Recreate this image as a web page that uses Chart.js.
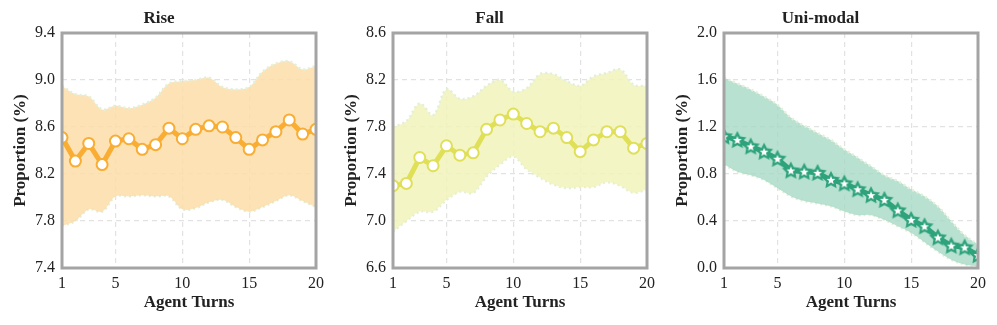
<!DOCTYPE html>
<html>
<head>
<meta charset="utf-8">
<script src="https://cdn.jsdelivr.net/npm/chart.js@4.4.0/dist/chart.umd.min.js"></script>
<style>
  body { margin: 0; background: #fff; width: 997px; height: 325px; position: relative; overflow: hidden; }
  .panel { position: absolute; top: 0; width: 330px; height: 325px; }
</style>
</head>
<body>
<div class="panel" style="left:0px"><canvas id="riseChart" width="330" height="325"></canvas></div>
<div class="panel" style="left:331px"><canvas id="fallChart" width="330" height="325"></canvas></div>
<div class="panel" style="left:662px"><canvas id="uniChart" width="330" height="325"></canvas></div>
<script>
const turns = [1, 2, 3, 4, 5, 6, 7, 8, 9, 10, 11, 12, 13, 14, 15, 16, 17, 18, 19, 20];
const xTicks = [1, 5, 10, 15, 20];

const riseMean  = [8.51, 8.31, 8.46, 8.28, 8.48, 8.50, 8.41, 8.45, 8.59, 8.50, 8.58, 8.61, 8.60, 8.51, 8.41, 8.49, 8.56, 8.66, 8.54, 8.58];
const riseUpper = [8.95, 8.88, 8.86, 8.75, 8.78, 8.76, 8.79, 8.85, 8.97, 8.99, 9.00, 9.02, 8.94, 8.92, 8.94, 9.07, 9.14, 9.16, 9.09, 9.12];
const riseLower = [7.76, 7.80, 7.90, 7.88, 8.01, 8.01, 8.02, 8.01, 8.01, 7.90, 7.91, 7.96, 7.98, 7.92, 7.88, 7.92, 7.97, 8.02, 7.97, 7.92];

const fallMean  = [7.30, 7.32, 7.54, 7.47, 7.64, 7.56, 7.58, 7.78, 7.86, 7.91, 7.83, 7.76, 7.79, 7.71, 7.59, 7.69, 7.76, 7.76, 7.62, 7.66];
const fallUpper = [7.80, 7.85, 8.00, 7.90, 8.12, 8.04, 8.06, 8.15, 8.20, 8.10, 8.13, 8.25, 8.25, 8.19, 8.15, 8.23, 8.26, 8.29, 8.16, 8.15];
const fallLower = [6.91, 7.00, 7.08, 7.08, 7.18, 7.25, 7.24, 7.38, 7.48, 7.55, 7.44, 7.37, 7.31, 7.28, 7.29, 7.29, 7.33, 7.30, 7.24, 7.27];

const uniMean  = [1.12, 1.09, 1.035, 0.99, 0.93, 0.83, 0.82, 0.81, 0.75, 0.72, 0.67, 0.62, 0.58, 0.49, 0.41, 0.355, 0.26, 0.19, 0.175, 0.11];
const uniUpper = [1.62, 1.57, 1.52, 1.46, 1.39, 1.28, 1.21, 1.15, 1.09, 1.01, 0.94, 0.865, 0.79, 0.74, 0.67, 0.61, 0.525, 0.40, 0.28, 0.20];
const uniLower = [0.88, 0.82, 0.79, 0.75, 0.68, 0.61, 0.57, 0.55, 0.525, 0.48, 0.45, 0.45, 0.41, 0.355, 0.30, 0.22, 0.14, 0.07, 0.03, 0.015];

const serif = "'Liberation Serif', 'Times New Roman', serif";

// grey box round the plot area
const framePlugin = {
    id: 'frame',
    afterDatasetsDraw(chart) {
        const a = chart.chartArea;
        const ctx = chart.ctx;
        ctx.save();
        ctx.strokeStyle = '#a4a4a4';
        ctx.lineWidth = 3;
        ctx.strokeRect(a.left, a.top, a.right - a.left, a.bottom - a.top);
        ctx.restore();
    }
};

function starImage(fill, inner) {
    const c = document.createElement('canvas');
    c.width = 20; c.height = 20;
    const g = c.getContext('2d');
    function star(r1, r2) {
        g.beginPath();
        for (let i = 0; i < 10; i++) {
            const r = i % 2 === 0 ? r1 : r2;
            const a = -Math.PI / 2 + i * Math.PI / 5;
            g.lineTo(10 + r * Math.cos(a), 10.5 + r * Math.sin(a));
        }
        g.closePath();
    }
    star(9.5, 4.8);
    g.fillStyle = fill;
    g.fill();
    star(4.6, 2.0);
    g.fillStyle = inner;
    g.fill();
    return c;
}

function pts(vals) {
    return turns.map((t, i) => ({ x: t, y: vals[i] }));
}

function makeChart(id, title, mean, upper, lower, yMin, yMax, lineColor, bandColor, pointStyle, rightPad) {
    const ctx = document.getElementById(id).getContext('2d');
    const isStar = pointStyle !== 'circle';
    return new Chart(ctx, {
        type: 'line',
        data: {
            datasets: [{
                data: pts(mean),
                borderColor: lineColor,
                backgroundColor: '#ffffff',
                borderWidth: 5,
                pointStyle: pointStyle,
                pointRadius: isStar ? 10 : 5.5,
                pointBorderWidth: 2,
                pointBorderColor: lineColor,
                pointBackgroundColor: '#ffffff',
                tension: 0,
                fill: false
            }, {
                data: pts(upper),
                borderColor: '#e2efd9',
                borderWidth: 2.5,
                borderDash: [2, 3],
                backgroundColor: bandColor,
                pointRadius: 0,
                tension: 0.35,
                fill: '+1'
            }, {
                data: pts(lower),
                borderColor: '#e2efd9',
                borderWidth: 2.5,
                borderDash: [2, 3],
                pointRadius: 0,
                tension: 0.35,
                fill: false
            }]
        },
        options: {
            responsive: false,
            animation: false,
            layout: { padding: { left: 0, right: rightPad, top: 0, bottom: 0 } },
            plugins: {
                legend: { display: false },
                tooltip: { enabled: false },
                title: {
                    display: true,
                    text: title,
                    color: '#222',
                    font: { family: serif, size: 17, weight: 'bold', lineHeight: 1.2 },
                    padding: { top: 8, bottom: 4.6 }
                }
            },
            scales: {
                x: {
                    type: 'linear',
                    min: 1,
                    max: 20,
                    afterBuildTicks: axis => { axis.ticks = xTicks.map(v => ({ value: v })); },
                    afterFit: s => { s.height = 57; },
                    grid: { color: '#e2e2e2', lineWidth: 1.2, drawTicks: false },
                    border: { display: false, dash: [5, 4] },
                    ticks: { color: '#222', padding: 6, font: { family: serif, size: 16 }, maxRotation: 0 },
                    title: {
                        display: true,
                        text: 'Agent Turns',
                        color: '#222',
                        font: { family: serif, size: 17, weight: 'bold', lineHeight: 1.2 },
                        padding: { top: 0, bottom: 11.8 }
                    }
                },
                y: {
                    min: yMin,
                    max: yMax,
                    afterFit: s => { s.width = 62; },
                    grid: { color: '#e2e2e2', lineWidth: 1.2, drawTicks: false },
                    border: { display: false, dash: [5, 4] },
                    ticks: {
                        stepSize: 0.4,
                        color: '#222',
                        padding: 7,
                        font: { family: serif, size: 16 },
                        callback: v => v.toFixed(1)
                    },
                    title: {
                        display: true,
                        text: 'Proportion (%)',
                        color: '#222',
                        font: { family: serif, size: 17, weight: 'bold', lineHeight: 1.2 },
                        padding: { top: 10, bottom: 0 }
                    }
                }
            }
        },
        plugins: [framePlugin]
    });
}

makeChart('riseChart', 'Rise', riseMean, riseUpper, riseLower, 7.4, 9.4,
    '#f9ad33', 'rgba(252, 221, 168, 0.85)', 'circle', 12);
makeChart('fallChart', 'Fall', fallMean, fallUpper, fallLower, 6.6, 8.6,
    '#dfe058', 'rgba(242, 243, 186, 0.85)', 'circle', 13);
makeChart('uniChart', 'Uni-modal', uniMean, uniUpper, uniLower, 0.0, 2.0,
    '#2ea37c', 'rgba(166, 218, 198, 0.8)', starImage('#2ea37c', '#ffffff'), 13);
</script>
</body>
</html>
